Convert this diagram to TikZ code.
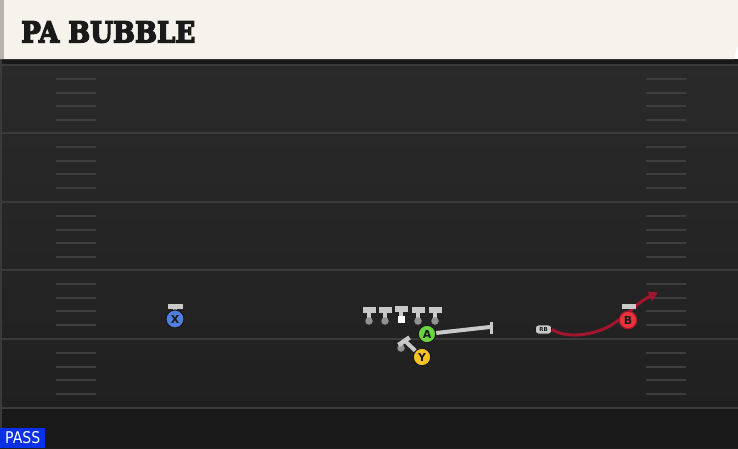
\documentclass[tikz,border=0pt]{standalone}
\usepackage{graphicx}
\usepackage{fontspec}
\setmainfont{DejaVu Sans}
\newfontfamily\titlefont[BoldFeatures={FakeBold=5}]{DejaVu Serif}
\usetikzlibrary{arrows.meta}
\definecolor{hdr}{HTML}{F5F3EC}
\definecolor{hdredge}{HTML}{B5B3AB}
\definecolor{fieldtop}{HTML}{2A2A2A}
\definecolor{fieldbot}{HTML}{1F1F1F}
\definecolor{yard}{HTML}{3A3A3A}
\definecolor{hashc}{HTML}{3E3E3E}
\definecolor{tbar}{HTML}{C9C9C9}
\definecolor{tdot}{HTML}{929292}
\definecolor{xblue}{HTML}{4F7FE0}
\definecolor{agreen}{HTML}{6CD43C}
\definecolor{yyellow}{HTML}{F5C22A}
\definecolor{bred}{HTML}{E8333C}
\definecolor{routered}{HTML}{A3152F}
\definecolor{passblue}{HTML}{0B31E8}
\definecolor{ink}{HTML}{1A1A1A}
\tikzset{
  player/.style={circle,minimum size=17.5pt,inner sep=0pt,line width=1.1pt,draw=ink,
     font=\bfseries\fontsize{11}{11}\selectfont,text=ink},
  tbarst/.style={fill=tbar,draw=none},
  tdotst/.style={fill=tdot,draw=none},
  yardline/.style={draw=yard,line width=2pt},
  hashline/.style={draw=hashc,line width=1.6pt},
  blockroute/.style={draw=tbar,line width=4pt},
  redroute/.style={draw=routered,line width=3pt,-{Triangle[length=9pt,width=10pt]}},
}
\begin{document}
\begin{tikzpicture}[x=1pt,y=-1pt]
\useasboundingbox (0,0) rectangle (738,448);
% field
\shade[top color=fieldtop,bottom color=fieldbot] (0,59) rectangle (738,448);
\fill[fill=fieldbot!80!black] (0,408) rectangle (738,448);
\fill[black!90] (0,59) rectangle (738,64);
% yard lines
\foreach \yy in {65,133,202,270,339,408}{
  \draw[yardline] (0,\yy) -- (738,\yy);
}
% hash marks
\foreach \yy in {65,133,202,270,339}{
  \foreach \dd in {14,28,41,55}{
    \draw[hashline] (56,\yy+\dd) -- (96,\yy+\dd);
    \draw[hashline] (646,\yy+\dd) -- (686,\yy+\dd);
  }
}
\fill[yard] (0,59) rectangle (2,448);
% header
\fill[hdr] (0,0) -- (738,0) -- (738,45) -- (734,59) -- (0,59) -- cycle;
\fill[hdredge] (0,0) rectangle (4,59);
\node[anchor=south west,inner sep=0pt,text=ink] (title) at (21,43)
  {\resizebox{174pt}{21pt}{\titlefont\bfseries PA BUBBLE}};
% offensive line
\foreach \nm/\xx in {lt/369,lg/385,rg/418,rt/435}{
  \fill[tbarst] (\xx-6.5,307) rectangle (\xx+6.5,312.5);
  \fill[tbarst] (\xx-2,312) rectangle (\xx+2,320);
  \node[circle,fill=tdot,minimum size=7.5pt,inner sep=0pt] (\nm) at (\xx,321) {};
}
\fill[tbarst] (394.5,305.5) rectangle (407.5,311.5);
\fill[tbarst] (399,311) rectangle (403,316);
\node[rectangle,fill=white,minimum size=7pt,inner sep=0pt] (c) at (401,319) {};
% A route
\coordinate (aend) at (490,327);
\node[player,fill=agreen] (a) at (427,334) {A};
\draw[blockroute] (a) -- (aend);
\draw[draw=tbar,line width=3pt] (491,322) -- (491,334);
% Y block
\coordinate (ybar) at (405,341);
\node[circle,fill=tdot,minimum size=7.5pt,inner sep=0pt] (ydot) at (401,348) {};
\draw[draw=tbar,line width=4.5pt] (398.5,345) -- (409.5,337.5);
\node[player,fill=yyellow] (y) at (422,357) {Y};
\draw[blockroute] (y) -- (ybar);
% X receiver
\fill[tbarst] (167.5,304) rectangle (182.5,309);
\fill[tbarst] (173,308) rectangle (177,311);
\node[player,fill=xblue,minimum size=18pt] (x) at (175,319) {X};
% RB
\node[rectangle,rounded corners=3pt,fill=tbar,draw=ink,line width=0.6pt,
  minimum width=16pt,minimum height=9pt,inner sep=0pt,
  font=\bfseries\fontsize{5.5}{5.5}\selectfont,text=ink] (rb) at (543.5,329.5) {RB};
% B route
\coordinate (bend) at (658,292.5);
\draw[redroute] (rb.east) .. controls (566,338) and (588,336) .. (606,328)
   .. controls (624,319) and (636,303) .. (bend);
% B receiver
\fill[tbarst] (621.5,304) rectangle (635.5,309);
\node[player,fill=bred,draw=routered] (b) at (628,320) {B};
% PASS label
\node[anchor=south west,fill=passblue,minimum width=45pt,minimum height=20pt,inner sep=0pt,
  text=white] (pass) at (0,448) {\resizebox{35pt}{12pt}{PASS}};
\end{tikzpicture}
\end{document}
